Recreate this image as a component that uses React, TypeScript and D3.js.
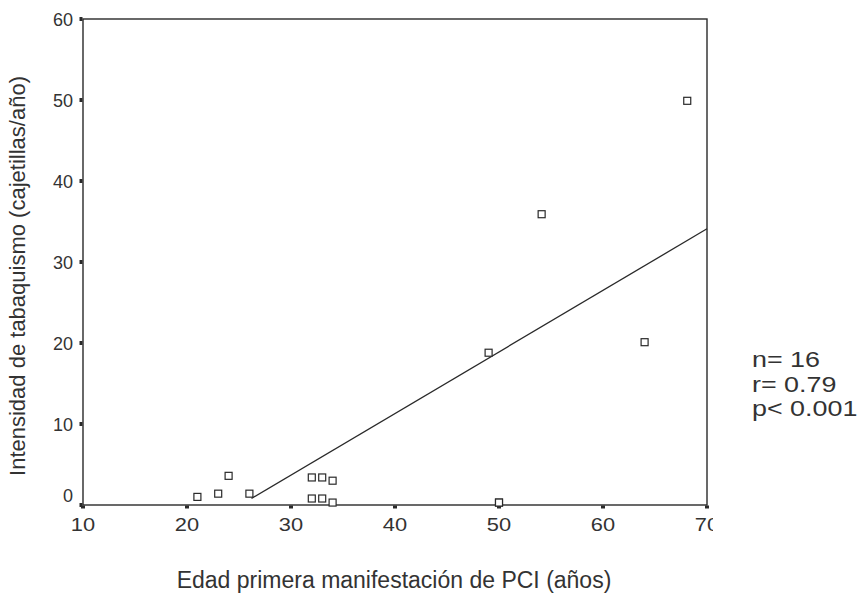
import React from "react";
import * as d3 from "d3";

const ageValues = [21, 23, 24, 26, 32, 33, 34, 32, 33, 34, 50, 50, 49, 54.1, 64, 68.1];
const smokingValues = [1.0, 1.4, 3.6, 1.4, 3.4, 3.4, 3.0, 0.8, 0.8, 0.3, 0.3, 0.3, 18.8, 35.9, 20.1, 49.9];
const xTicks = [10, 20, 30, 40, 50, 60, 70];
const yTicks = [0, 10, 20, 30, 40, 50, 60];
const fitX = [26.2, 70];
const fitSlope = 0.76;
const fitIntercept = -19.1;
const statsLines = ["n= 16", "r= 0.79", "p< 0.001"];
const xTitle = "Edad primera manifestación de PCI (años)";
const yTitle = "Intensidad de tabaquismo (cajetillas/año)";

export default function App() {
  const W = 866, H = 595;
  const x = d3.scaleLinear().domain([10, 70]).range([83, 707]);
  const y = d3.scaleLinear().domain([0, 60]).range([505, 19]);
  const line = d3.line<number>().x((d) => x(d)).y((d) => y(fitSlope * d + fitIntercept));
  const font = "'Liberation Sans', Arial, sans-serif";
  const ink = "#2a2a2a";
  return (
    <svg width={W} height={H} style={{ position: "absolute", left: 0, top: 0, background: "#fff" }} fontFamily={font}>
      <defs>
        <clipPath id="clipR"><rect x={0} y={0} width={713} height={H} /></clipPath>
      </defs>
      <rect x={0} y={0} width={W} height={H} fill="#fff" />
      <rect x={x(10)} y={y(60)} width={x(70) - x(10)} height={y(0) - y(60)} fill="none" stroke={ink} strokeWidth={1.4} />
      <g clipPath="url(#clipR)">
        {xTicks.map((t) => (
          <g key={"x" + t}>
            <rect x={x(t) - 2} y={y(0) + 0.5} width={4} height={3} fill={ink} />
            <text transform={`translate(${x(t)},531) scale(1.15,1)`} textAnchor="middle" fontSize={19} fill="#333">{t}</text>
          </g>
        ))}
      </g>
      {yTicks.map((t) => (
        <g key={"y" + t}>
          <rect x={x(10) - 3.5} y={y(t) - 2} width={3} height={4} fill={ink} />
          <text x={73} y={t === 0 ? y(t) - 3 : y(t) + 6.5} textAnchor="end" fontSize={18} fill="#333">{t}</text>
        </g>
      ))}
      <path d={line(fitX) || ""} fill="none" stroke={ink} strokeWidth={1.3} />
      {ageValues.map((a, i) => (
        <rect key={i} x={x(a) - 3.5} y={y(smokingValues[i]) - 3.5} width={7} height={7} fill="#fff" stroke={ink} strokeWidth={1.2} />
      ))}
      <text x={394} y={588} textAnchor="middle" fontSize={23} fill="#333">{xTitle}</text>
      <text transform={`translate(25,${(y(0) + y(60)) / 2 + 14}) rotate(-90)`} textAnchor="middle" fontSize={22} fill="#333">{yTitle}</text>
      {statsLines.map((s, i) => (
        <text key={s} transform={`translate(752,${367 + i * 24.5}) scale(1.25,1)`} fontSize={21.5} fill="#333">{s}</text>
      ))}
    </svg>
  );
}
